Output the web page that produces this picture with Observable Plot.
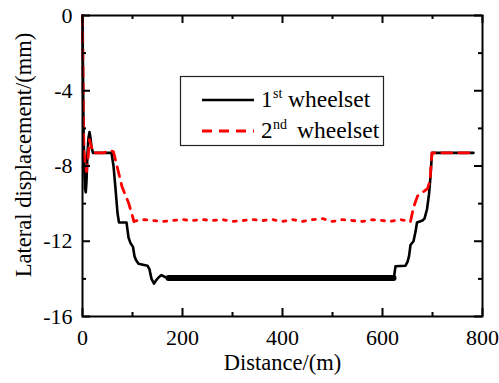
<!DOCTYPE html>
<html>
<head>
<meta charset="utf-8">
<script src="https://cdn.jsdelivr.net/npm/d3@7"></script>
<script src="https://cdn.jsdelivr.net/npm/@observablehq/plot@0.6"></script>
<style>
  html, body { margin: 0; padding: 0; background: #fff; }
  #wrap { position: relative; width: 499px; height: 383px; }
  #legend { position: absolute; left: 0; top: 0; pointer-events: none; }
</style>
</head>
<body>
<div id="wrap"></div>
<script>
// ---- data ----
const blackDist = [0, 1, 2, 3.5, 5, 6.5, 8, 10, 12, 14, 16, 18, 21, 30, 45, 58, 62, 66, 70, 73, 88, 92, 96, 101, 104, 107, 112, 130, 134, 138, 143, 148, 153, 158, 165, 172, 178, 250, 350, 450, 550, 622, 623, 626, 646, 650, 653, 656, 662, 666, 669, 680, 684, 689, 693, 696, 699, 782];
const blackDisp = [0, -3, -6, -8, -9.2, -9.4, -8.8, -7.3, -6.5, -6.2, -6.5, -7.0, -7.3, -7.3, -7.3, -7.3, -8.0, -9.2, -10.5, -11.0, -11.0, -11.8, -12.1, -12.3, -12.8, -13.0, -13.2, -13.3, -13.5, -14.0, -14.25, -14.05, -13.9, -13.8, -13.9, -13.95, -13.95, -13.95, -13.95, -13.95, -13.95, -13.95, -13.9, -13.33, -13.3, -13.1, -12.8, -12.2, -12.0, -11.5, -11.0, -10.9, -10.8, -10.3, -9.5, -8.55, -7.3, -7.3];

const redDist = [0, 1, 2, 3, 5, 8, 11, 14, 17, 22, 40, 58, 62, 69, 79, 92, 103, 110, 125, 140, 160, 180, 200, 220, 240, 260, 280, 300, 320, 340, 360, 380, 400, 420, 440, 460, 480, 500, 520, 540, 560, 580, 600, 616, 636, 656, 662, 670, 690, 695, 697, 699, 782];
const redDisp = [0, -3, -6, -7.2, -7.8, -8.3, -7.6, -6.6, -6.9, -7.3, -7.3, -7.2, -7.25, -8.0, -9.1, -9.95, -10.95, -10.9, -10.85, -10.9, -10.95, -10.9, -10.85, -10.9, -10.85, -10.9, -10.85, -10.95, -10.9, -10.85, -10.9, -10.85, -10.95, -10.85, -10.95, -10.85, -10.8, -10.95, -10.85, -10.9, -10.95, -10.85, -10.9, -10.94, -10.85, -10.95, -10.2, -9.6, -9.2, -8.8, -8.0, -7.3, -7.3];

const xMajorTicks = [0, 200, 400, 600, 800];
const xMinorTicks = [100, 300, 500, 700];
const yMajorTicks = [0, -4, -8, -12, -16];
const yMinorTicks = [-2, -6, -10, -14];

const xLabel = "Distance/(m)";
const yLabel = "Lateral displacement/(mm)";
const legendNums = ["1", "2"];
const legendSups = ["st", "nd"];
const legendWord = "wheelset";

// ---- build tables ----
const black = blackDist.map((d, i) => ({x: d, y: blackDisp[i]}));
const red = redDist.map((d, i) => ({x: d, y: redDisp[i]}));

const W = 499, H = 383;
const mL = 82, mR = 17, mT = 15, mB = 67;
const plotH = H - mT - mB;
const plotW = W - mL - mR;
const FONT = "'Liberation Serif', 'Times New Roman', serif";

const chart = Plot.plot({
  width: W,
  height: H,
  marginLeft: mL,
  marginRight: mR,
  marginTop: mT,
  marginBottom: mB,
  style: {fontFamily: FONT, fontSize: "22px", background: "#fff", color: "#000"},
  x: {domain: [0, 800], axis: null},
  y: {domain: [-16, 0], axis: null},
  marks: [
    // black series
    Plot.line(black, {x: "x", y: "y", stroke: "#000", strokeWidth: 2.6}),
    Plot.line(black, {x: "x", y: "y", filter: d => d.x >= 172 && d.x <= 622, stroke: "#000", strokeWidth: 6}),
    // red series
    Plot.line(red, {x: "x", y: "y", filter: d => d.x <= 103, stroke: "#ff0000", strokeWidth: 2.8, strokeDasharray: "10,7"}),
    Plot.line(red, {x: "x", y: "y", filter: d => d.x >= 103 && d.x <= 656, stroke: "#ff0000", strokeWidth: 2.8, strokeDasharray: "3,7"}),
    Plot.line(red, {x: "x", y: "y", filter: d => d.x >= 656, stroke: "#ff0000", strokeWidth: 2.8, strokeDasharray: "10,7"}),
    // inward ticks
    Plot.tickX(xMajorTicks, {x: d => d, insetTop: plotH - 8, stroke: "#000", strokeWidth: 2}),
    Plot.tickX(xMinorTicks, {x: d => d, insetTop: plotH - 4, stroke: "#000", strokeWidth: 2}),
    Plot.tickX(xMajorTicks, {x: d => d, insetBottom: plotH - 8, stroke: "#000", strokeWidth: 2}),
    Plot.tickX(xMinorTicks, {x: d => d, insetBottom: plotH - 4, stroke: "#000", strokeWidth: 2}),
    Plot.tickY(yMajorTicks, {y: d => d, insetRight: plotW - 8, stroke: "#000", strokeWidth: 2}),
    Plot.tickY(yMinorTicks, {y: d => d, insetRight: plotW - 4, stroke: "#000", strokeWidth: 2}),
    Plot.tickY(yMajorTicks, {y: d => d, insetLeft: plotW - 8, stroke: "#000", strokeWidth: 2}),
    Plot.tickY(yMinorTicks, {y: d => d, insetLeft: plotW - 4, stroke: "#000", strokeWidth: 2}),
    Plot.frame({stroke: "#000", strokeWidth: 2}),
    // tick labels
    Plot.axisX({ticks: xMajorTicks, tickSize: 0, tickPadding: 13, fontSize: 22, label: null, tickFormat: d => String(d), fill: "#000"}),
    Plot.axisY({ticks: yMajorTicks, tickSize: 0, tickPadding: 10, fontSize: 22, label: null, tickFormat: d => String(d), fill: "#000"}),
    // axis titles
    Plot.text([xLabel], {text: d => d, frameAnchor: "bottom", textAnchor: "middle", dy: 46, fontSize: 22.5, fill: "#000", lineAnchor: "middle"}),
    Plot.text([yLabel], {text: d => d, frameAnchor: "left", textAnchor: "middle", dx: -59, dy: -11, rotate: -90, fontSize: 22.5, fill: "#000", lineAnchor: "middle"})
  ]
});

const wrap = document.getElementById("wrap");
wrap.appendChild(chart);

// ---- legend overlay ----
const ns = "http://www.w3.org/2000/svg";
const lg = document.createElementNS(ns, "svg");
lg.setAttribute("id", "legend");
lg.setAttribute("width", W);
lg.setAttribute("height", H);
lg.style.fontFamily = FONT;
const box = document.createElementNS(ns, "rect");
box.setAttribute("x", 180.5); box.setAttribute("y", 76.5);
box.setAttribute("width", 203); box.setAttribute("height", 69);
box.setAttribute("fill", "#fff"); box.setAttribute("stroke", "#222"); box.setAttribute("stroke-width", 1.2);
lg.appendChild(box);
const rows = [
  {ly: 100, ty: 107, stroke: "#000", dash: null, sw: 2.6, wx: 288},
  {ly: 131, ty: 138, stroke: "#ff0000", dash: "10,7", sw: 2.8, wx: 297}
];
rows.forEach((r, i) => {
  const ln = document.createElementNS(ns, "line");
  ln.setAttribute("x1", 202); ln.setAttribute("x2", 254);
  ln.setAttribute("y1", r.ly); ln.setAttribute("y2", r.ly);
  ln.setAttribute("stroke", r.stroke); ln.setAttribute("stroke-width", r.sw);
  if (r.dash) ln.setAttribute("stroke-dasharray", r.dash);
  lg.appendChild(ln);
  const t = document.createElementNS(ns, "text");
  t.setAttribute("x", 261); t.setAttribute("y", r.ty);
  t.setAttribute("font-size", 23);
  t.textContent = legendNums[i];
  lg.appendChild(t);
  const s = document.createElementNS(ns, "text");
  s.setAttribute("x", 273); s.setAttribute("y", r.ty - 9);
  s.setAttribute("font-size", 14);
  s.textContent = legendSups[i];
  lg.appendChild(s);
  const w = document.createElementNS(ns, "text");
  w.setAttribute("x", r.wx); w.setAttribute("y", r.ty);
  w.setAttribute("font-size", 23.5);
  w.textContent = legendWord;
  lg.appendChild(w);
});
wrap.appendChild(lg);
</script>
</body>
</html>
